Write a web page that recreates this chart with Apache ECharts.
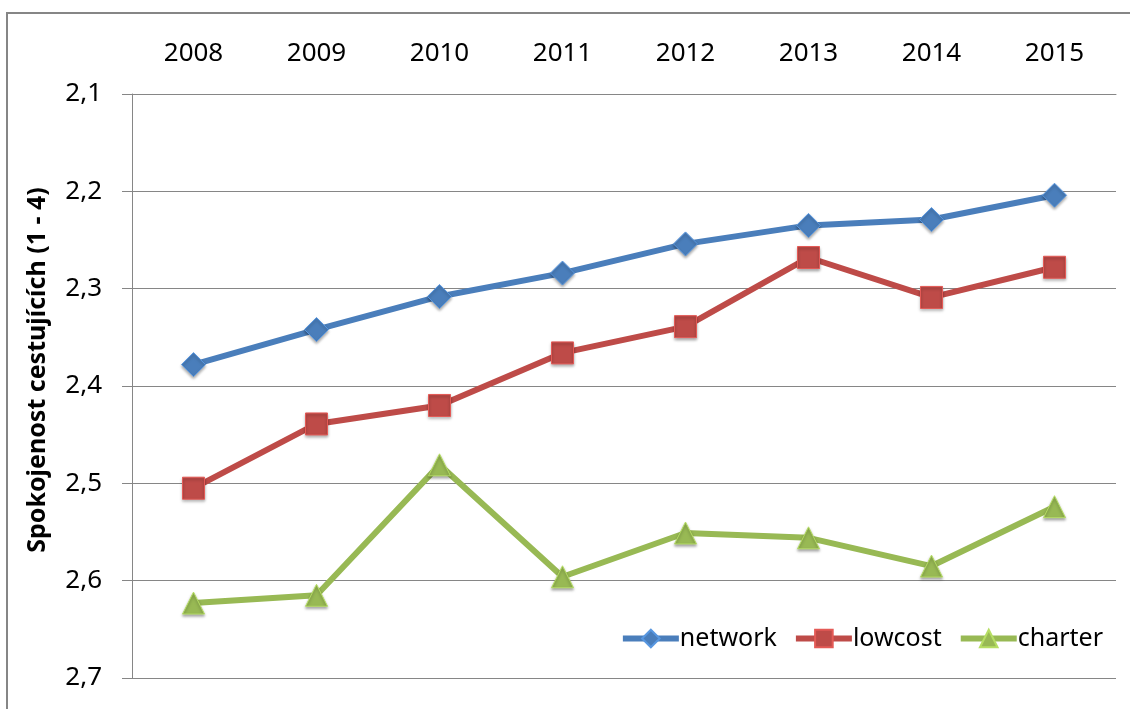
<!DOCTYPE html>
<html><head><meta charset="utf-8">
<script src="https://cdn.jsdelivr.net/npm/echarts@6/dist/echarts.min.js"></script>
<style>html,body{margin:0;padding:0;background:#fff}#c{width:1130px;height:709px}</style>
</head><body><div id="c"></div>
<script>
const years = ['2008','2009','2010','2011','2012','2013','2014','2015'];
const network = [2.378, 2.342, 2.308, 2.284, 2.254, 2.235, 2.229, 2.204];
const lowcost = [2.505, 2.439, 2.420, 2.366, 2.339, 2.268, 2.309, 2.278];
const charter = [2.623, 2.615, 2.481, 2.596, 2.551, 2.556, 2.585, 2.524];
const yTitle = 'Spokojenost cestujících (1 - 4)';

const font = '"Noto Sans", "Open Sans", sans-serif';
const chart = echarts.init(document.getElementById('c'));
function mk(name, data, color, symbol, size) {
  return {
    name, type: 'line', data, symbol, symbolSize: size,
    lineStyle: { color, width: 6 },
    itemStyle: { color, borderColor: echarts.color.lift(color, -0.2), borderWidth: 1,
      shadowColor: 'rgba(0,0,0,0.35)', shadowBlur: 3, shadowOffsetY: 2 },
    emphasis: { disabled: true }
  };
}
chart.setOption({
  animation: false,
  graphic: [
    { type: 'rect', shape: { x: 7, y: 13, width: 1300, height: 900 },
      style: { fill: 'none', stroke: '#868686', lineWidth: 2 }, z: -1 },
    { type: 'text', x: 38, y: 370, rotation: Math.PI / 2,
      style: { text: yTitle, font: 'bold 25px "Noto Sans", sans-serif', fill: '#000',
        align: 'center', verticalAlign: 'middle' } }
  ],
  grid: { left: 132, right: 14, top: 94, bottom: 31 },
  legend: {
    right: 22, top: 621, itemWidth: 56, itemHeight: 22, itemGap: 16,
    lineStyle: { width: 6 },
    textStyle: { fontFamily: font, fontSize: 25, color: '#000', padding: [0,0,0,-4] },
    data: ['network', 'lowcost', 'charter']
  },
  xAxis: {
    type: 'category', data: years, position: 'top', boundaryGap: true,
    axisLine: { lineStyle: { color: '#868686', width: 1 } },
    axisTick: { inside: false, length: 9, interval: 0, lineStyle: { color: '#868686' } },
    axisLabel: { fontFamily: font, fontSize: 26, color: '#000', margin: 27 },
    splitLine: { show: false }
  },
  yAxis: {
    type: 'value', inverse: true, min: 2.1, max: 2.7, interval: 0.1,
    axisLine: { show: true, lineStyle: { color: '#868686', width: 1 } },
    axisTick: { show: true, length: 10, lineStyle: { color: '#868686' } },
    axisLabel: { fontFamily: font, fontSize: 26, color: '#000', margin: 30,
      formatter: v => v.toFixed(1).replace('.', ',') },
    splitLine: { lineStyle: { color: '#868686', width: 1 } }
  },
  series: [
    mk('network', network, '#4a7ebb', 'diamond', 24),
    mk('lowcost', lowcost, '#be4b48', 'rect', 22),
    mk('charter', charter, '#98b954', 'triangle', 22)
  ]
});
</script></body></html>
